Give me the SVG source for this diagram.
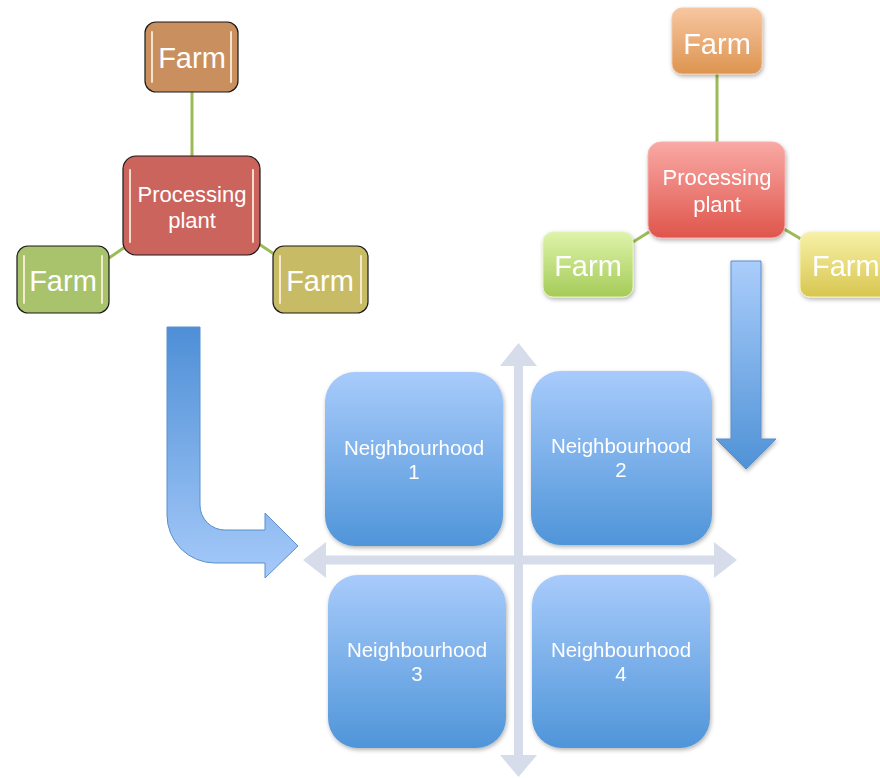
<svg xmlns="http://www.w3.org/2000/svg" width="880" height="778" viewBox="0 0 880 778">
<defs>
<linearGradient id="gN" x1="0" y1="0" x2="0" y2="1"><stop offset="0" stop-color="#A8CBFB"/><stop offset="1" stop-color="#4F95D9"/></linearGradient>
<linearGradient id="gDown" x1="0" y1="0" x2="0" y2="1"><stop offset="0" stop-color="#AACDFB"/><stop offset="1" stop-color="#4F92D6"/></linearGradient>
<linearGradient id="gL" gradientUnits="userSpaceOnUse" x1="0" y1="327" x2="0" y2="575"><stop offset="0" stop-color="#4E8FD6"/><stop offset="1" stop-color="#A5C9F9"/></linearGradient>
<linearGradient id="gOr" x1="0" y1="0" x2="0" y2="1"><stop offset="0" stop-color="#F7C6A0"/><stop offset="1" stop-color="#DD9450"/></linearGradient>
<linearGradient id="gRd" x1="0" y1="0" x2="0" y2="1"><stop offset="0" stop-color="#F9A9A5"/><stop offset="1" stop-color="#DF554B"/></linearGradient>
<linearGradient id="gGr" x1="0" y1="0" x2="0" y2="1"><stop offset="0" stop-color="#DEF3AA"/><stop offset="1" stop-color="#A5CB58"/></linearGradient>
<linearGradient id="gYe" x1="0" y1="0" x2="0" y2="1"><stop offset="0" stop-color="#F7F1A8"/><stop offset="1" stop-color="#D8C650"/></linearGradient>
<filter id="sh" x="-10%" y="-10%" width="125%" height="125%"><feDropShadow dx="1" dy="2" stdDeviation="2" flood-color="#000" flood-opacity="0.3"/></filter>
</defs>
<style>
.box{stroke:#1a1a1a;stroke-width:1.2}
.hl{stroke:#FFF2DE;stroke-width:2;stroke-linecap:round;opacity:0.85}
.farm{font-family:"Liberation Sans",Arial,sans-serif;font-size:29px;fill:#fff;text-anchor:middle}
.pp{font-family:"Liberation Sans",Arial,sans-serif;font-size:22px;fill:#fff;text-anchor:middle}
.nb{font-family:"Liberation Sans",Arial,sans-serif;font-size:20.5px;fill:#fff;text-anchor:middle}
.con{stroke:#9BBB59;stroke-width:3;fill:none}
.ax{fill:#D6DCE9}
</style>

<g id="connectors">
<line class="con" x1="192" y1="92" x2="192" y2="156"/>
<line class="con" x1="109" y1="258" x2="125" y2="247"/>
<line class="con" x1="259" y1="244" x2="274" y2="254"/>
<line class="con" x1="717" y1="74" x2="717" y2="142"/>
<line class="con" x1="633" y1="242" x2="649" y2="232"/>
<line class="con" x1="784" y1="229" x2="801" y2="239"/>
</g>

<g id="left-farm-top">
<rect class="box" x="145" y="22" width="93" height="70" rx="11" fill="#C98F5E"/>
<line class="hl" x1="152" y1="32" x2="152" y2="82"/><line class="hl" x1="231" y1="32" x2="231" y2="82"/>
<text class="farm" x="192" y="68">Farm</text>
</g>
<g id="left-plant">
<rect class="box" x="123" y="156" width="137" height="99" rx="13" fill="#CC645E"/>
<line class="hl" x1="130" y1="170" x2="130" y2="242"/><line class="hl" x1="253" y1="170" x2="253" y2="242"/>
<text class="pp" x="192" y="202">Processing</text>
<text class="pp" x="192" y="228">plant</text>
</g>
<g id="left-farm-left">
<rect class="box" x="17" y="246" width="92" height="67" rx="11" fill="#A8C36B"/>
<line class="hl" x1="24" y1="256" x2="24" y2="303"/><line class="hl" x1="102" y1="256" x2="102" y2="303"/>
<text class="farm" x="63" y="291">Farm</text>
</g>
<g id="left-farm-right">
<rect class="box" x="273" y="246" width="95" height="67" rx="11" fill="#C8BB66"/>
<line class="hl" x1="280" y1="256" x2="280" y2="303"/><line class="hl" x1="361" y1="256" x2="361" y2="303"/>
<text class="farm" x="320" y="291">Farm</text>
</g>

<g id="right-farm-top" filter="url(#sh)">
<rect x="672" y="8" width="90" height="66" rx="10" fill="url(#gOr)" stroke="#F3C8A4" stroke-width="1"/>
<text class="farm" x="717" y="54">Farm</text>
</g>
<g id="right-plant" filter="url(#sh)">
<rect x="648" y="142" width="137" height="96" rx="13" fill="url(#gRd)" stroke="#F6B0AC" stroke-width="1"/>
<text class="pp" x="717" y="185">Processing</text>
<text class="pp" x="717" y="212">plant</text>
</g>
<g id="right-farm-left" filter="url(#sh)">
<rect x="543" y="232" width="90" height="65" rx="10" fill="url(#gGr)" stroke="#E2F4B6" stroke-width="1"/>
<text class="farm" x="588" y="276">Farm</text>
</g>
<g id="right-farm-right" filter="url(#sh)">
<rect x="800" y="232" width="100" height="65" rx="10" fill="url(#gYe)" stroke="#F7F2B6" stroke-width="1"/>
<text class="farm" x="812" y="276" style="text-anchor:start">Farm</text>
</g>

<g id="arrow-left">
<path d="M167,327 H200 V505 A25,25 0 0 0 225,530 H265 V513 L298,546 L265,578 V563 H215 A48,48 0 0 1 167,515 Z" fill="url(#gL)" stroke="#5A8FCC" stroke-width="1"/>
</g>
<g id="arrow-down" filter="url(#sh)">
<path d="M731,261 H761 V439 H776 L746,469 L716,439 H731 Z" fill="url(#gDown)" stroke="#5A8FCC" stroke-width="1"/>
</g>

<g id="axes">
<rect class="ax" x="514" y="362" width="9" height="396"/>
<rect class="ax" x="322" y="555.5" width="396" height="9"/>
<polygon class="ax" points="518.5,343 537,366 500,366"/>
<polygon class="ax" points="518.5,777 537,755 500,755"/>
<polygon class="ax" points="303,560 326,542 326,578"/>
<polygon class="ax" points="737,560 714,542 714,578"/>
</g>

<g id="n1" filter="url(#sh)">
<rect x="325" y="372" width="178" height="174" rx="30" fill="url(#gN)"/>
<text class="nb" x="414" y="455">Neighbourhood</text>
<text class="nb" x="414" y="479">1</text>
</g>
<g id="n2" filter="url(#sh)">
<rect x="531" y="371" width="181" height="174" rx="30" fill="url(#gN)"/>
<text class="nb" x="621" y="453">Neighbourhood</text>
<text class="nb" x="621" y="477">2</text>
</g>
<g id="n3" filter="url(#sh)">
<rect x="328" y="575" width="178" height="173" rx="30" fill="url(#gN)"/>
<text class="nb" x="417" y="657">Neighbourhood</text>
<text class="nb" x="417" y="681">3</text>
</g>
<g id="n4" filter="url(#sh)">
<rect x="532" y="575" width="178" height="173" rx="30" fill="url(#gN)"/>
<text class="nb" x="621" y="657">Neighbourhood</text>
<text class="nb" x="621" y="681">4</text>
</g>
</svg>
